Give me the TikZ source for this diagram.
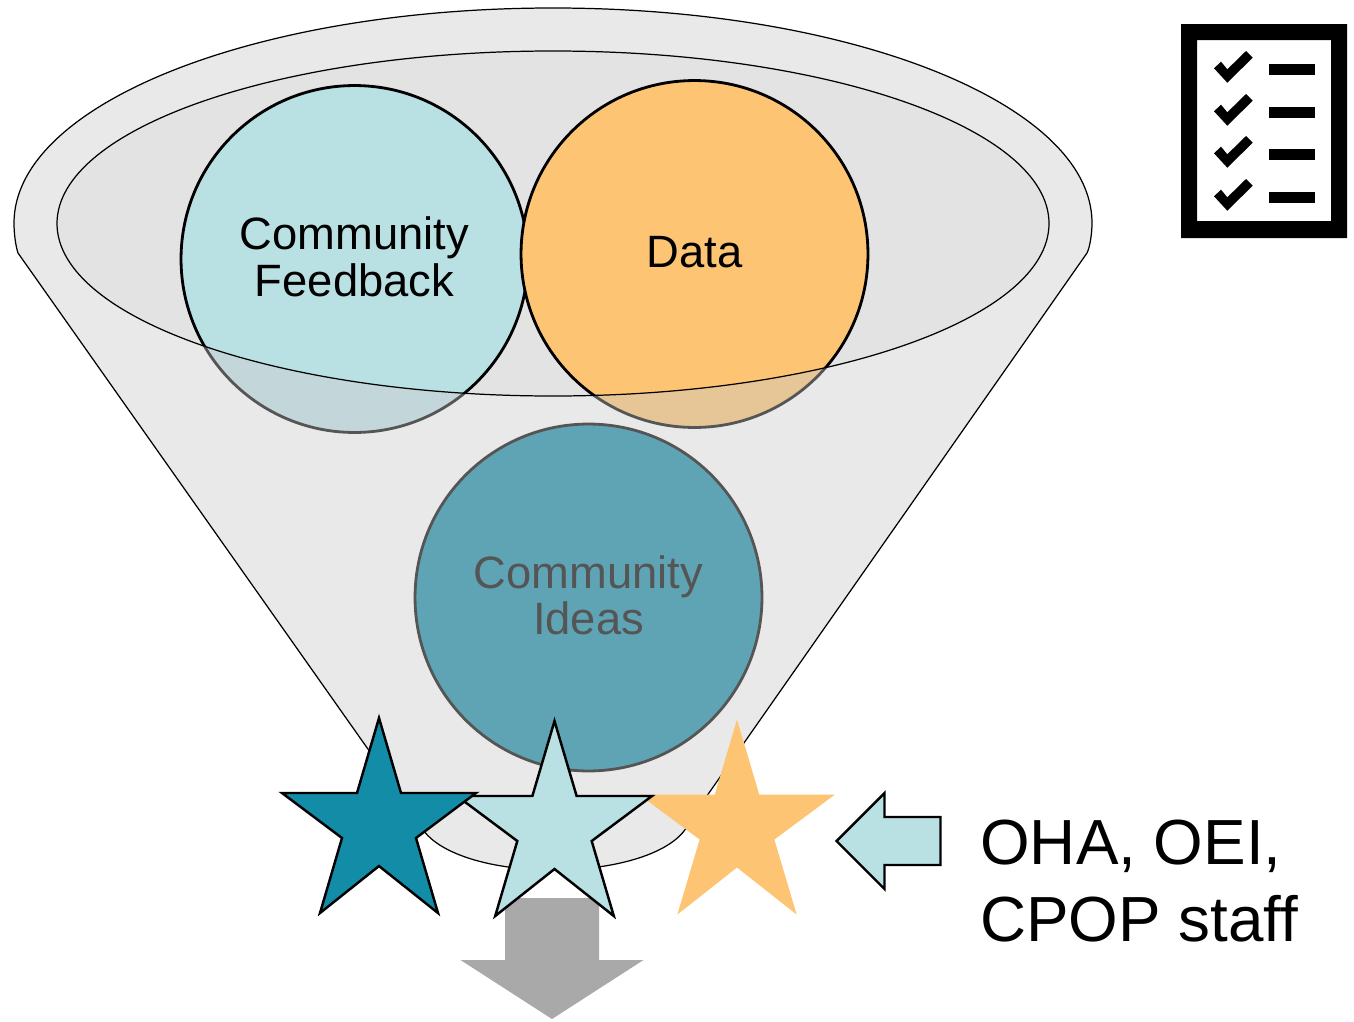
\documentclass[tikz,border=0pt]{standalone}
\usepackage{fontspec}
\setmainfont{Liberation Sans}
\usetikzlibrary{positioning}
\definecolor{FunnelGrey}{HTML}{E9E9E9}
\definecolor{InnerGrey}{HTML}{E3E3E3}
\definecolor{PaleTeal}{HTML}{B9E0E3}
\definecolor{PaleTealShade}{HTML}{C3D6DA}
\definecolor{SoftOrange}{HTML}{FDC474}
\definecolor{SoftOrangeShade}{HTML}{E6C696}
\definecolor{IdeasTeal}{HTML}{5FA4B4}
\definecolor{DeepTeal}{HTML}{138CA8}
\definecolor{ShadeLine}{HTML}{555555}
\definecolor{ArrowGrey}{HTML}{A9A9A9}
\tikzset{
	ringnode/.style={circle,minimum size=6.94cm,inner sep=0pt,line width=1.6pt,align=center,text depth=2.8pt,
		font=\fontsize{25.8}{26.6}\selectfont},
	starline/.style={draw=black,line width=1.4pt,miter limit=10},
	staffnode/.style={anchor=west,align=left,inner sep=0pt,font=\fontsize{36.3}{43.5}\selectfont}
}
% one star, from its middle x, top y and half width
\newcommand{\StarShape}[4]{
	\begin{scope}[shift={(#1,#2)},xscale=#3/97]
		\path[#4] (0,0) -- (22,75) -- (97,75) -- (37,120) -- (59,195) -- (0,148)
			-- (-59,195) -- (-37,120) -- (-97,75) -- (-22,75) -- cycle;
	\end{scope}
}
\begin{document}
\begin{tikzpicture}[x=0.02cm,y=-0.02cm]
	\pgfmathsetmacro{\InnerRX}{496}
	\pgfmathsetmacro{\InnerRY}{172.5}
	\useasboundingbox (0,0) rectangle (1354,1021);
	% FUNNEL
	\filldraw[fill=FunnelGrey,draw=black,line width=0.7pt] (14,223) .. controls (14,104) and (255,8) .. (553,8)
		.. controls (851,8) and (1092,104) .. (1092,223) .. controls (1092,233) and (1090,247) .. (1087,253)
		-- (690,820) .. controls (680,851) and (620,870) .. (553,870)
		.. controls (486,870) and (428,851) .. (418,820)
		-- (18,253) .. controls (16,247) and (14,235) .. (14,223) -- cycle;
	% CIRCLES UNDER THE RIM
	\node[ringnode,draw=ShadeLine,fill=PaleTealShade] (feedbackshade) at (354.5,259) {};
	\node[ringnode,draw=ShadeLine,fill=SoftOrangeShade] (datashade) at (694.5,254) {};
	\fill[InnerGrey] (553,223.5) ellipse [x radius=\InnerRX,y radius=\InnerRY];
	\begin{scope}
		\clip (553,223.5) ellipse [x radius=\InnerRX,y radius=\InnerRY];
		\node[ringnode,draw=black,fill=PaleTeal] (feedback) at (feedbackshade.center) {Community\\Feedback};
		\node[ringnode,draw=black,fill=SoftOrange] (data) at (datashade.center) {Data};
	\end{scope}
	\draw[line width=0.7pt] (553,223.5) ellipse [x radius=\InnerRX,y radius=\InnerRY];
	\node[ringnode,draw=ShadeLine,fill=IdeasTeal,text=ShadeLine] (ideas) at (588.5,597.5) {Community\\Ideas};
	% ARROWS
	\fill[ArrowGrey] (505,898) -- (599,898) -- (599,960) -- (643.5,960) -- (552,1019) -- (460.5,960) -- (505,960) -- cycle;
	\filldraw[fill=PaleTeal,draw=black,line width=1.4pt] (836.5,841) -- (884.5,793) -- (884.5,817) -- (940.5,817)
		-- (940.5,865) -- (884.5,865) -- (884.5,889) -- cycle;
	% STARS
	\StarShape{737}{719.5}{98}{fill=SoftOrange}
	\StarShape{554.5}{721}{97.5}{fill=PaleTeal,starline}
	\StarShape{379}{718}{97}{fill=DeepTeal,starline}
	\node[staffnode] (staff) at (980,881) {OHA, OEI,\\CPOP staff};
	% CHECKLIST
	\fill[black,even odd rule] (1181,24) rectangle (1347,238) (1197,40) rectangle (1331,221);
	\foreach \RowY in {0,43,85,128} {
		\fill[black] (1214,68.3+\RowY) -- (1221,61.7+\RowY) -- (1227.3,69.3+\RowY) -- (1246,51+\RowY)
			-- (1252.7,57.7+\RowY) -- (1227.3,82.7+\RowY) -- cycle;
		\fill[black] (1269,64+\RowY) rectangle (1315,75+\RowY);
	}
\end{tikzpicture}
\end{document}
